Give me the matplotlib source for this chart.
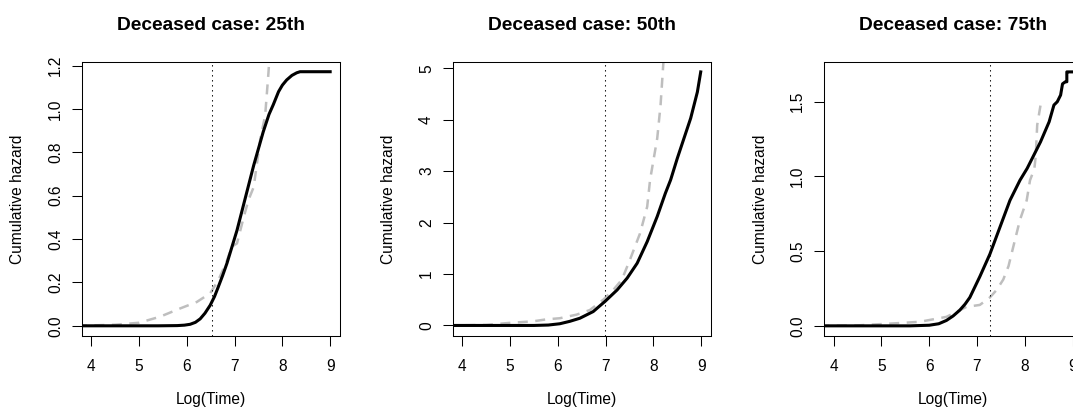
import matplotlib
matplotlib.use('Agg')
import matplotlib.pyplot as plt

plt.rcParams['font.family'] = ['Liberation Sans', 'DejaVu Sans']

# panel titles and reference lines (log time of the chosen deceased case)
titles = ['Deceased case: 25th', 'Deceased case: 50th', 'Deceased case: 75th']
vlines = [6.53, 6.98, 7.27]

# 25th: model curve (black) and empirical estimate (grey dashed)
black_x_25 = [3.7, 5.4, 5.8, 5.95, 6.07, 6.18, 6.28, 6.38, 6.49, 6.58, 6.66, 6.75, 6.84,
              7.05, 7.19, 7.4, 7.6, 7.72, 7.81, 7.92, 8.0, 8.09, 8.2, 8.3, 8.37, 9.0]
black_y_25 = [0, 0, 0.001, 0.003, 0.007, 0.016, 0.032, 0.058, 0.095, 0.135, 0.18, 0.232,
              0.288, 0.44, 0.56, 0.74, 0.895, 0.975, 1.02, 1.08, 1.11, 1.134, 1.155, 1.167,
              1.172, 1.172]
gray_x_25 = [3.7, 4.5, 5.0, 5.44, 5.86, 6.21, 6.49, 6.66, 6.84, 6.94, 7.05, 7.19,
             7.29, 7.4, 7.54, 7.64, 7.71, 7.76]
gray_y_25 = [0, 0.005, 0.014, 0.042, 0.08, 0.11, 0.15, 0.21, 0.30, 0.365, 0.38, 0.50,
             0.58, 0.64, 0.865, 0.97, 1.17, 1.35]

# 50th
black_x_50 = [3.7, 5.5, 5.8, 6.04, 6.25, 6.46, 6.74, 6.99, 7.24, 7.45, 7.66, 7.87,
              8.08, 8.25, 8.36, 8.5, 8.64, 8.78, 8.92, 8.99]
black_y_50 = [0, 0, 0.008, 0.033, 0.08, 0.14, 0.27, 0.47, 0.69, 0.92, 1.21, 1.63,
              2.12, 2.57, 2.83, 3.25, 3.64, 4.03, 4.54, 4.93]
gray_x_50 = [3.7, 4.5, 4.99, 5.48, 5.77, 6.04, 6.39, 6.67, 6.95, 7.16, 7.34, 7.51,
             7.72, 7.87, 7.93, 8.08, 8.15, 8.21, 8.25]
gray_y_50 = [0, 0.01, 0.05, 0.08, 0.12, 0.14, 0.21, 0.30, 0.5, 0.69, 0.89, 1.28,
             1.79, 2.31, 2.83, 3.64, 4.29, 5.13, 5.6]

# 75th
black_x_75 = [3.7, 5.6, 6.0, 6.2, 6.36, 6.5, 6.64, 6.75, 6.85, 7.06, 7.27, 7.48, 7.69,
              7.9, 8.05, 8.33, 8.51, 8.61, 8.68, 8.75, 8.79, 8.85, 8.88, 8.88, 8.9, 9.0]
black_y_75 = [0, 0, 0.004, 0.014, 0.036, 0.066, 0.105, 0.145, 0.19, 0.33, 0.48, 0.66,
              0.84, 0.975, 1.054, 1.232, 1.366, 1.478, 1.5, 1.545, 1.62, 1.634, 1.634,
              1.70, 1.70, 1.70]
gray_x_75 = [3.7, 4.5, 5.24, 5.8, 6.36, 6.78, 7.06, 7.27, 7.41, 7.55, 7.66, 7.76,
             7.9, 8.04, 8.11, 8.2, 8.23, 8.26, 8.33]
gray_y_75 = [0, 0.003, 0.016, 0.027, 0.06, 0.127, 0.14, 0.19, 0.24, 0.31, 0.4, 0.53,
             0.71, 0.84, 0.975, 1.05, 1.14, 1.344, 1.478]

black_x = [black_x_25, black_x_50, black_x_75]
black_y = [black_y_25, black_y_50, black_y_75]
gray_x = [gray_x_25, gray_x_50, gray_x_75]
gray_y = [gray_y_25, gray_y_50, gray_y_75]

x_ticks = [4, 5, 6, 7, 8, 9]
y_ticks = [[0.0, 0.2, 0.4, 0.6, 0.8, 1.0, 1.2], [0, 1, 2, 3, 4, 5], [0.0, 0.5, 1.0, 1.5]]
y_labels = [['0.0', '0.2', '0.4', '0.6', '0.8', '1.0', '1.2'],
            ['0', '1', '2', '3', '4', '5'],
            ['0.0', '0.5', '1.0', '1.5']]
y_limits = [(-0.047, 1.218), (-0.205, 5.128), (-0.068, 1.768)]

fig = plt.figure(figsize=(10.73, 4.2), dpi=100)
lefts = [0.0761, 0.4219, 0.768]

for i in range(3):
    ax = fig.add_axes([lefts[i], 0.2, 0.2405, 0.653])
    ax.plot(gray_x[i], gray_y[i], color='#bebebe', lw=1.8, ls=(0, (4, 3)))
    ax.plot(black_x[i], black_y[i], color='black', lw=2.2)
    ax.axvline(vlines[i], color='black', lw=0.75, ls=(0, (1.3, 3.5)))

    ax.set_xlim(3.8, 9.2)
    ax.set_ylim(*y_limits[i])
    ax.set_xticks(x_ticks)
    ax.set_xticklabels([str(t) for t in x_ticks])
    ax.set_yticks(y_ticks[i])
    ax.set_yticklabels(y_labels[i], rotation=90, va='center')

    ax.tick_params(axis='both', length=7, width=0.75, labelsize=11.2, color='black')
    ax.tick_params(axis='x', pad=9.8)
    ax.tick_params(axis='y', pad=6.5)
    for s in ax.spines.values():
        s.set_linewidth(0.75)
        s.set_color('black')

    ax.set_xlabel('Log(Time)', fontsize=11.2, va='center')
    ax.xaxis.set_label_coords(0.5, -64 / 274.3)
    ax.set_ylabel('Cumulative hazard', fontsize=11.2, va='center')
    ax.yaxis.set_label_coords(-64 / 258.0, 0.5)
    ax.set_title(titles[i], fontsize=13.8, fontweight='bold', pad=23)

fig.savefig('out.png', dpi=100)
